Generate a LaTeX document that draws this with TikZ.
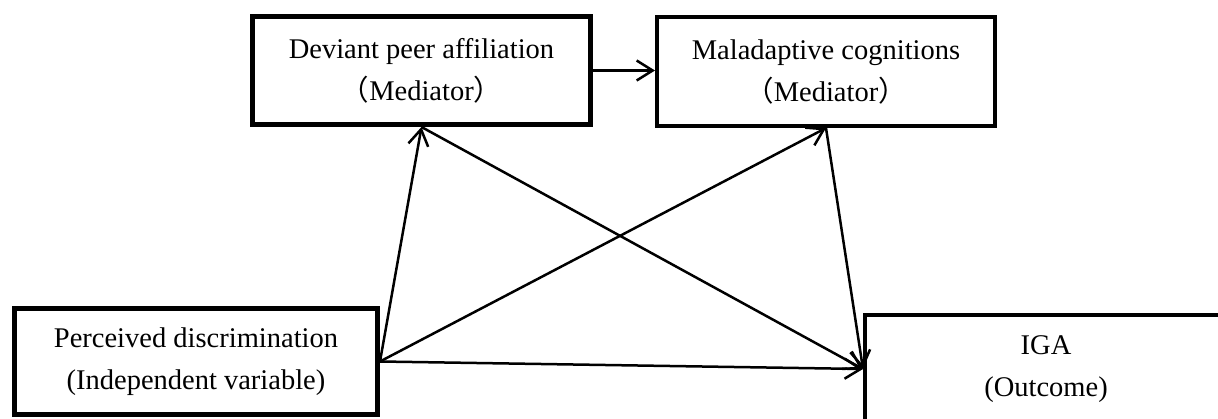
\documentclass[tikz,border=0pt]{standalone}
\usepackage{fontspec}
\setmainfont{Liberation Serif}
\newfontfamily\cjk{Noto Sans CJK SC}
\usetikzlibrary{arrows.meta}
\newcommand{\fwl}{{\cjk （}}
\newcommand{\fwr}{{\cjk ）}}
\begin{document}
\begin{tikzpicture}[x=1pt,y=-1pt,
  box/.style={draw, inner sep=0pt, align=center, font=\fontsize{28.5}{42}\selectfont},
  arr/.style={line width=2.5pt, -{Straight Barb[length=16pt,width=20pt]}}]
\useasboundingbox (0,0) rectangle (1218,419);
\clip (0,0) rectangle (1218,419);
\node[box, line width=5pt, minimum width=338pt, minimum height=108pt] (dev) at (421.5,70.5)
  {Deviant peer affiliation\\\fwl Mediator\fwr};
\node[box, line width=4pt, minimum width=338pt, minimum height=109pt] (mal) at (826,71.5)
  {Maladaptive cognitions\\\fwl Mediator\fwr};
\node[box, line width=5pt, minimum width=363pt, minimum height=106pt] (per) at (196,361.5)
  {Perceived discrimination\\(Independent variable)};
\node[box, line width=4pt, minimum width=362pt, minimum height=108pt] (iga) at (1046,369)
  {IGA\\(Outcome)};
\draw[arr] (dev.east) -- (dev.east -| mal.west);
\draw[arr] (per.east) -- (dev.south);
\draw[arr] (per.east) -- (mal.south);
\draw[arr] (per.east) -- (iga.west);
\draw[arr] (dev.south) -- (iga.west);
\draw[arr] (mal.south) -- (iga.west);
\end{tikzpicture}
\end{document}
